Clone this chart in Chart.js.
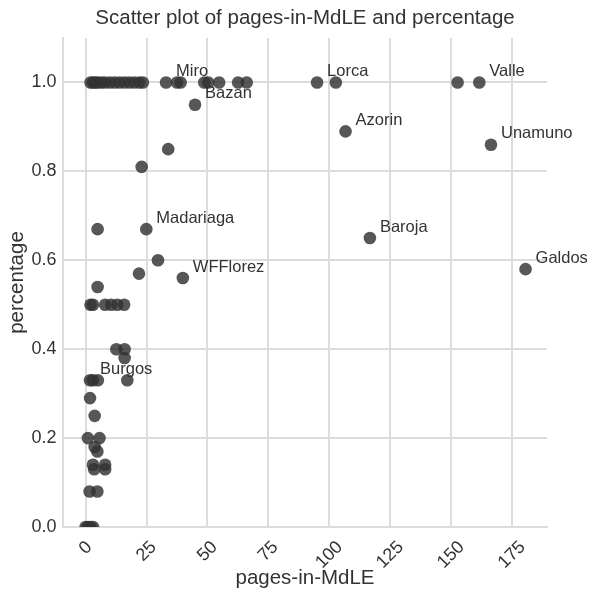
<!DOCTYPE html>
<html>
<head>
<meta charset="utf-8">
<script src="https://cdn.jsdelivr.net/npm/chart.js@4.4.1/dist/chart.umd.min.js"></script>
<style>
  html, body { margin: 0; padding: 0; background: #fff; }
  #wrap { width: 590px; height: 595px; }
</style>
</head>
<body>
<div id="wrap"><canvas id="scatterChart" width="590" height="595"></canvas></div>
<script>
// pages in MdLE vs. percentage, one entry per author
const pages = [
    2, 3, 4, 5, 6.5, 8, 10, 12, 14, 16, 18, 20, 22, 23.5,
    33, 37.5, 39, 48.7, 50.3, 54.8, 62.6, 66.1,
    95, 102.7, 152.7, 161.6,
    44.9, 106.7, 166.4, 33.9, 23,
    24.9, 4.9, 116.7, 29.7, 180.6, 21.9, 39.9, 4.9,
    2, 3, 8, 10.5, 13, 15.8,
    12.6, 16, 16, 17.1, 1.8, 3, 5,
    1.8, 3.7, 0.9, 5.7, 3.7, 4.8,
    3, 3.5, 8, 8, 1.6, 4.8,
    0, 1, 2, 3
];
const percentage = [
    1, 1, 1, 1, 1, 1, 1, 1, 1, 1, 1, 1, 1, 1,
    1, 1, 1, 1, 1, 1, 1, 1,
    1, 1, 1, 1,
    0.95, 0.89, 0.86, 0.85, 0.81,
    0.67, 0.67, 0.65, 0.60, 0.58, 0.57, 0.56, 0.54,
    0.5, 0.5, 0.5, 0.5, 0.5, 0.5,
    0.4, 0.4, 0.38, 0.33, 0.33, 0.33, 0.33,
    0.29, 0.25, 0.2, 0.2, 0.18, 0.17,
    0.14, 0.13, 0.14, 0.13, 0.08, 0.08,
    0, 0, 0, 0
];
const names = [
    '', '', '', '', '', '', '', '', '', '', '', '', '', '',
    'Miro', '', '', '', '', '', '', '',
    'Lorca', '', '', 'Valle',
    'Bazan', 'Azorin', 'Unamuno', '', '',
    'Madariaga', '', 'Baroja', '', 'Galdos', '', 'WFFlorez', '',
    '', '', '', '', '', '',
    '', '', '', '', 'Burgos', '', '',
    '', '', '', '', '', '',
    '', '', '', '', '', '',
    '', '', '', ''
];

const xTicks = [0, 25, 50, 75, 100, 125, 150, 175];
const yTicks = [0, 0.2, 0.4, 0.6, 0.8, 1.0];

const FONT = '"Liberation Sans", Arial, sans-serif';
const TEXT = '#333333';
const GRID = '#dcdcdc';

// name tags next to the labelled authors
const nameLabels = {
    id: 'nameLabels',
    afterDatasetsDraw(chart) {
        const ctx = chart.ctx;
        const xs = chart.scales.x, ys = chart.scales.y;
        ctx.save();
        ctx.font = '16.5px ' + FONT;
        ctx.fillStyle = TEXT;
        ctx.textAlign = 'left';
        ctx.textBaseline = 'middle';
        names.forEach((n, i) => {
            if (!n) return;
            ctx.fillText(n, xs.getPixelForValue(pages[i]) + 10, ys.getPixelForValue(percentage[i]) - 11);
        });
        ctx.restore();
    }
};

// x tick labels rotated 45deg and centred under each tick
const rotatedTicks = {
    id: 'rotatedTicks',
    afterDraw(chart) {
        const ctx = chart.ctx;
        const xs = chart.scales.x;
        const size = 18;
        ctx.save();
        ctx.font = size + 'px ' + FONT;
        ctx.fillStyle = TEXT;
        ctx.textAlign = 'center';
        ctx.textBaseline = 'middle';
        xs.ticks.forEach(t => {
            const label = String(t.value);
            const w = ctx.measureText(label).width;
            const boxH = (w + size) * Math.SQRT1_2;
            const cx = xs.getPixelForValue(t.value);
            const cy = xs.top + 11 + boxH / 2;
            ctx.save();
            ctx.translate(cx, cy);
            ctx.rotate(-Math.PI / 4);
            ctx.fillText(label, 0, 0);
            ctx.restore();
        });
        ctx.restore();
    }
};

const ctx = document.getElementById('scatterChart').getContext('2d');
new Chart(ctx, {
    type: 'scatter',
    data: {
        datasets: [{
            data: pages.map((p, i) => ({ x: p, y: percentage[i] })),
            backgroundColor: 'rgba(50, 50, 50, 0.82)',
            borderWidth: 0,
            pointRadius: 6.3,
            pointHoverRadius: 6.3,
            clip: 0
        }]
    },
    options: {
        responsive: false,
        animation: false,
        devicePixelRatio: 1,
        layout: { padding: { left: 0, right: 43, top: 0, bottom: 0 } },
        plugins: {
            legend: { display: false },
            tooltip: { enabled: false },
            title: {
                display: true,
                fullSize: false,
                text: 'Scatter plot of pages-in-MdLE and percentage',
                color: TEXT,
                font: { family: FONT, size: 20.5, weight: 'normal' },
                padding: { top: 5.7, bottom: 7.7 }
            }
        },
        scales: {
            x: {
                type: 'linear',
                min: -9.3,
                max: 189.4,
                afterBuildTicks: s => { s.ticks = xTicks.map(v => ({ value: v })); },
                afterFit: s => { s.height = 68; },
                grid: { color: GRID, lineWidth: 2, drawTicks: false },
                border: { color: GRID, width: 2 },
                ticks: { display: false },
                title: {
                    display: true,
                    text: 'pages-in-MdLE',
                    color: TEXT,
                    font: { family: FONT, size: 20.5 },
                    padding: { top: 0, bottom: 4.7 }
                }
            },
            y: {
                type: 'linear',
                min: 0,
                max: 1.1,
                afterBuildTicks: s => { s.ticks = yTicks.map(v => ({ value: v })); },
                afterFit: s => { s.width = 63; },
                grid: { color: GRID, lineWidth: 2, drawTicks: false },
                border: { color: GRID, width: 2 },
                ticks: {
                    color: TEXT,
                    font: { family: FONT, size: 18 },
                    padding: 6.5,
                    callback: v => v.toFixed(1)
                },
                title: {
                    display: true,
                    text: 'percentage',
                    color: TEXT,
                    font: { family: FONT, size: 20.5 },
                    padding: { top: 5.2, bottom: 0 }
                }
            }
        }
    },
    plugins: [nameLabels, rotatedTicks]
});
</script>
</body>
</html>
